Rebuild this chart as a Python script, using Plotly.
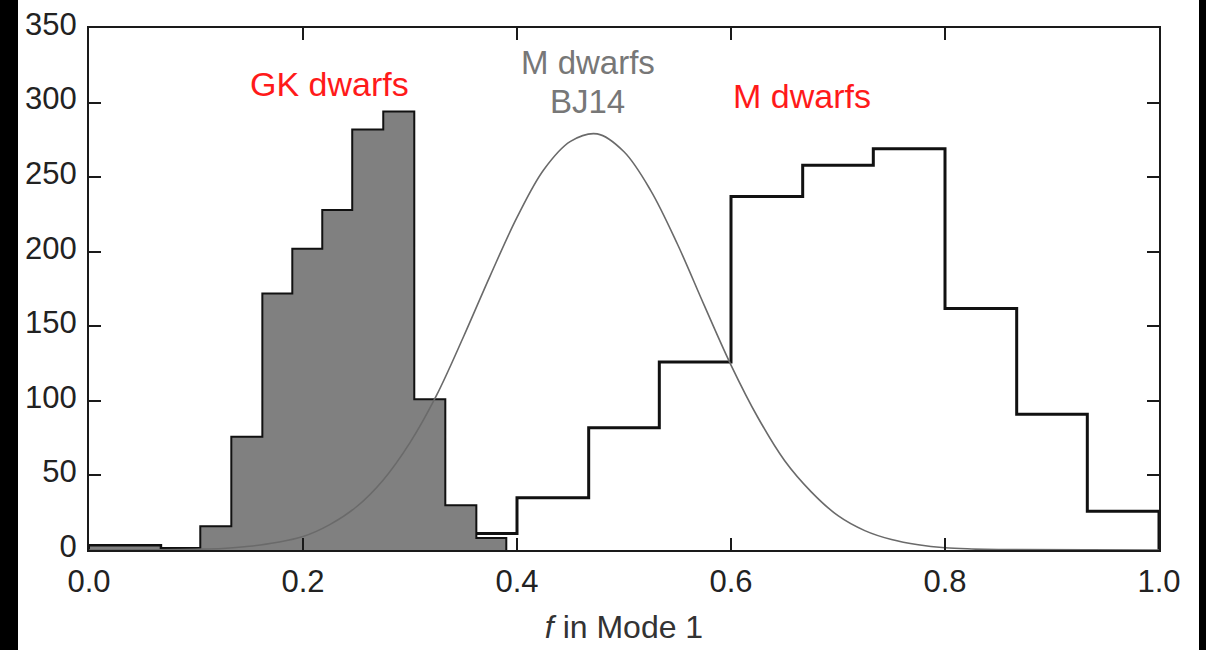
import plotly.graph_objects as go

# ---------------- data ----------------
# M dwarfs (black step outline histogram)
m_edges = [0.0, 0.067, 0.133, 0.2, 0.267, 0.333, 0.4, 0.467, 0.533, 0.6,
           0.667, 0.733, 0.8, 0.867, 0.933, 1.0]
m_counts = [3, 1, 2, 4, 6, 11, 35, 82, 126, 237, 258, 269, 162, 91, 26]

# GK dwarfs (grey filled histogram)
gk_edges = [0.0, 0.067, 0.104, 0.133, 0.162, 0.190, 0.218, 0.246, 0.275,
            0.304, 0.333, 0.362, 0.390]
gk_counts = [3, 0, 16, 76, 172, 202, 228, 282, 294, 101, 30, 8]

# M dwarfs BJ14 model curve
bj_x = [0.0, 0.10, 0.125, 0.15, 0.175, 0.2, 0.225, 0.25, 0.275, 0.3, 0.325,
        0.35, 0.375, 0.4, 0.425, 0.45, 0.475, 0.5, 0.525, 0.55, 0.575, 0.6,
        0.625, 0.65, 0.675, 0.7, 0.725, 0.75, 0.775, 0.8, 0.825, 0.85, 1.0]
bj_y = [0, 0.5, 1, 2.5, 5, 9, 17, 29, 47, 72, 104, 143, 184, 223, 255, 274,
        279, 267, 241, 205, 164, 124, 89, 60, 39, 23, 13, 7, 3.5, 1.5, 0.7, 0.3, 0]

x_ticks = [0.0, 0.2, 0.4, 0.6, 0.8, 1.0]
y_ticks = [0, 50, 100, 150, 200, 250, 300, 350]

labels = [
    dict(text="GK dwarfs", x=0.225, y=312.5, color="#ff1a1a", anchor="middle"),
    dict(text="M dwarfs", x=0.466, y=313.5, color="#777777", anchor="bottom"),
    dict(text="BJ14", x=0.466, y=313.5, color="#777777", anchor="top"),
    dict(text="M dwarfs", x=0.666, y=304.5, color="#ff1a1a", anchor="middle"),
]


def step_path(edges, counts):
    xs = [edges[0]] + edges[:-1] + [edges[-1]]
    ys = [0] + counts + [0]
    return xs, ys


FONT = "Liberation Sans, Arial, Helvetica, sans-serif"

fig = go.Figure()

mx, my = step_path(m_edges, m_counts)
fig.add_trace(go.Scatter(x=mx, y=my, mode="lines", line_shape="hv",
                         line=dict(color="#111111", width=3),
                         hoverinfo="skip"))

gx, gy = step_path(gk_edges, gk_counts)
fig.add_trace(go.Scatter(x=gx, y=gy, mode="lines", line_shape="hv",
                         fill="tozeroy", fillcolor="#808080",
                         line=dict(color="#111111", width=2),
                         hoverinfo="skip"))

fig.add_trace(go.Scatter(x=bj_x, y=bj_y, mode="lines",
                         line=dict(color="#6a6a6a", width=1.6,
                                   shape="spline", smoothing=1.0),
                         hoverinfo="skip"))

for lab in labels:
    fig.add_annotation(x=lab["x"], y=lab["y"], xref="x", yref="y",
                       text=lab["text"], showarrow=False, borderpad=0,
                       font=dict(family=FONT, size=34 if lab["color"] != "#777777" else 33,
                                 color=lab["color"]),
                       xanchor="center", yanchor=lab["anchor"])

axis_common = dict(
    showgrid=False, zeroline=False, showline=True, linecolor="#1a1a1a",
    linewidth=2, mirror="allticks", ticks="inside", ticklen=12,
    tickwidth=2, tickcolor="#1a1a1a", automargin=False,
    tickfont=dict(family=FONT, size=31, color="#222222"),
)

fig.update_xaxes(range=[0, 1], tickvals=x_ticks,
                 ticktext=[f"{v:.1f}" for v in x_ticks],
                 ticklabelstandoff=3,
                 title=dict(text="<i>f</i> in Mode 1",
                            font=dict(family=FONT, size=32, color="#333333"),
                            standoff=17),
                 **axis_common)
fig.update_yaxes(range=[0, 350], tickvals=y_ticks,
                 ticktext=[str(v) for v in y_ticks],
                 ticklabelstandoff=4, ticklabelshift=-4,
                 **axis_common)

# black side bands seen in the reference image
W, H = 1206, 650
L, R, T, B = 89, 47, 28, 100
pw, ph = W - L - R, H - T - B


def px_x(p):
    return (p - L) / pw


def px_y(p):
    return (H - B - p) / ph


fig.add_shape(type="rect", xref="paper", yref="paper",
              x0=px_x(0), x1=px_x(18), y0=px_y(H), y1=px_y(0),
              fillcolor="black", line=dict(width=0), layer="above")
fig.add_shape(type="rect", xref="paper", yref="paper",
              x0=px_x(1199), x1=px_x(W), y0=px_y(H), y1=px_y(0),
              fillcolor="black", line=dict(width=0), layer="above")

fig.update_layout(width=W, height=H,
                  margin=dict(l=L, r=R, t=T, b=B, autoexpand=False),
                  paper_bgcolor="white", plot_bgcolor="white",
                  showlegend=False)

fig.write_html("out.html")
